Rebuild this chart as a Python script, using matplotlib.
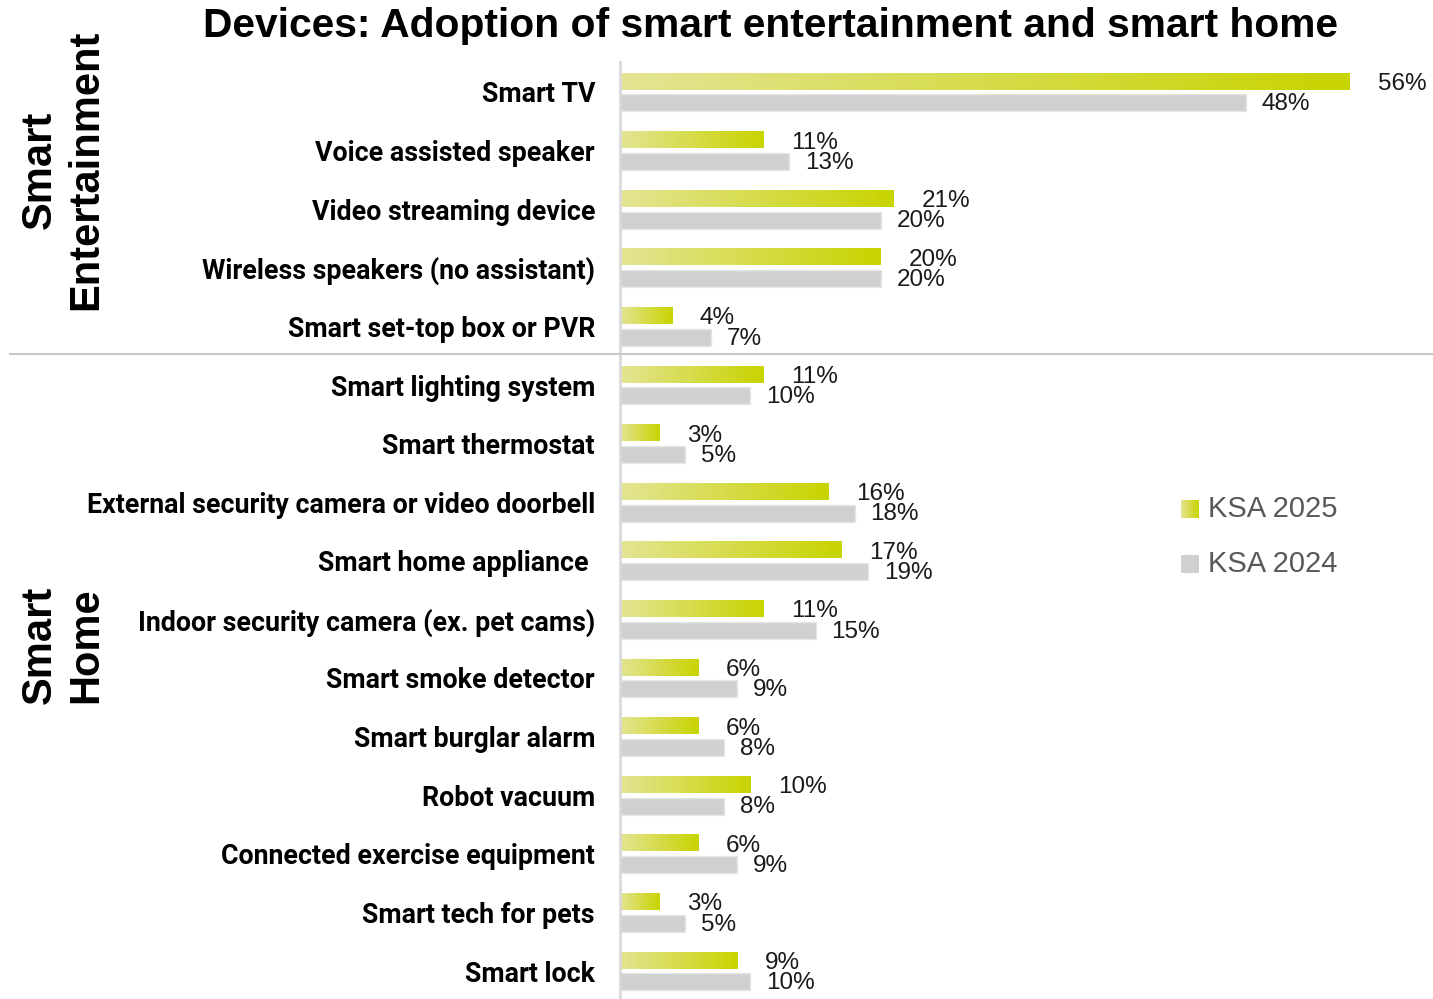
import numpy as np
import matplotlib
matplotlib.use("Agg")
import matplotlib.pyplot as plt
from matplotlib.colors import LinearSegmentedColormap
from matplotlib.lines import Line2D

categories = [
    "Smart TV",
    "Voice assisted speaker",
    "Video streaming device",
    "Wireless speakers (no assistant)",
    "Smart set-top box or PVR",
    "Smart lighting system",
    "Smart thermostat",
    "External security camera or video doorbell",
    "Smart home appliance ",
    "Indoor security camera (ex. pet cams)",
    "Smart smoke detector",
    "Smart burglar alarm",
    "Robot vacuum",
    "Connected exercise equipment",
    "Smart tech for pets",
    "Smart lock",
]
ksa_2025 = [56, 11, 21, 20, 4, 11, 3, 16, 17, 11, 6, 6, 10, 6, 3, 9]
ksa_2024 = [48, 13, 20, 20, 7, 10, 5, 18, 19, 15, 9, 8, 8, 9, 5, 10]
groups = ["Smart\nEntertainment", "Smart\nHome"]
legend_labels = ["KSA 2025", "KSA 2024"]

W, H = 1433, 999
green_cmap = LinearSegmentedColormap.from_list("lime", ["#e4e494", "#c8d400"])
grey = "#d0d0d0"

fig = plt.figure(figsize=(W / 100, H / 100), dpi=100)
ax = fig.add_axes([620 / W, 0, (W - 620) / W, (H - 62) / H])

grad = np.linspace(0, 1, 256).reshape(1, -1)
off, h = 0.185, 0.29
for i, (g, s) in enumerate(zip(ksa_2025, ksa_2024)):
    yg = i - off
    ax.imshow(grad, cmap=green_cmap, extent=[0, g, yg + h / 2, yg - h / 2],
              aspect="auto", interpolation="bicubic", zorder=2)
    ax.barh(i + off, s, height=h, color=grey, edgecolor="#e6e6e6",
            linewidth=1, zorder=2)
    ax.annotate(f"{g}%", (g, yg), xytext=(20, -2), textcoords="offset points",
                ha="left", va="center", fontsize=17.5, color="#1a1a1a",
                family="Liberation Sans")
    ax.annotate(f"{s}%", (s, i + off), xytext=(11.5, -1), textcoords="offset points",
                ha="left", va="center", fontsize=17.5, color="#1a1a1a",
                family="Liberation Sans")

scale = 730 / 56  # pixels per percent
ax.set_xlim(0, (W - 620) / scale)
top = -30 / 58.6
ax.set_ylim(top + (H - 62) / 58.6, top)

ax.set_yticks(range(len(categories)))
ax.set_yticklabels(categories, fontsize=19.3, fontweight="bold", family="Roboto")
ax.tick_params(axis="y", length=0, pad=18)
ax.set_xticks([])
for side in ["top", "right", "bottom"]:
    ax.spines[side].set_visible(False)
ax.spines["left"].set_color("#d9d9d9")
ax.spines["left"].set_linewidth(2)

# separator between the two groups
fig.add_artist(Line2D([10 / W, 1], [1 - 354 / H] * 2, color="#c8c8c8", lw=1.5))

fig.text(770 / W, 1 - 26 / H, "Devices: Adoption of smart entertainment and smart home",
         ha="center", va="center", fontsize=29.3, fontweight="bold",
         family="Liberation Sans")

for label, yc in zip(groups, [170, 645]):
    fig.text(63 / W, 1 - yc / H, label, rotation=90, ha="center", va="center",
             multialignment="center", fontsize=30, fontweight="bold",
             family="Liberation Sans", linespacing=1.2)

# legend
for j, (label, yc) in enumerate(zip(legend_labels, [509, 564])):
    sq = fig.add_axes([1181 / W, 1 - (yc + 9) / H, 18 / W, 18 / H])
    if j == 0:
        sq.imshow(grad, cmap=green_cmap, aspect="auto")
    else:
        sq.imshow(np.zeros((1, 1)), cmap=LinearSegmentedColormap.from_list("g", [grey, grey]),
                  aspect="auto")
    sq.axis("off")
    fig.text(1208 / W, 1 - yc / H, label, ha="left", va="center", fontsize=21,
             color="#595959", family="Liberation Sans")

fig.savefig("out.png", dpi=100)
